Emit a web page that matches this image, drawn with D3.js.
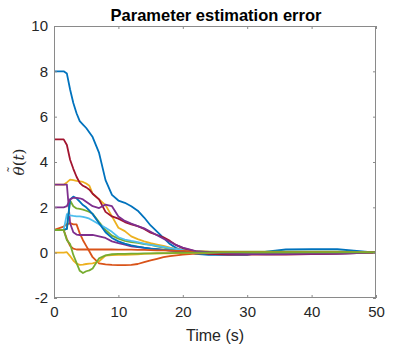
<!DOCTYPE html>
<html>
<head>
<meta charset="utf-8">
<script src="https://cdn.jsdelivr.net/npm/d3@7/dist/d3.min.js"></script>
<style>
  body { margin: 0; background: #fff; }
  svg { display: block; }
  .tick text { font-family: "Liberation Sans", Arial, sans-serif; fill: #262626; }
</style>
</head>
<body>
<script>
// sample times (s), shared by every series
var time = [0, 1.5, 2, 2.5, 3, 3.5, 4, 4.5, 5, 5.5, 6, 7, 8, 9, 10, 11, 12, 13, 14, 15,
  16, 17, 18, 19, 20, 22, 24, 27, 30, 33, 36, 40, 44, 47, 50];

// parameter errors
var blue1 = [8, 8, 7.9, 7.2, 6.6, 6.15, 5.8, 5.65, 5.5, 5.3, 5.1, 4.4, 3.2, 2.55, 2.3, 2.2, 2.05, 1.85, 1.55, 1.2,
  0.93, 0.65, 0.38, 0.2, 0.1, -0.05, -0.1, -0.1, -0.1, 0.05, 0.14, 0.15, 0.15, 0.08, 0];
var orange1 = [1, 1.15, 1.25, 1.3, 1.25, 1.25, 0.85, 0.55, 0.3, 0.05, -0.2, -0.47, -0.52, -0.54, -0.55, -0.55, -0.54, -0.5, -0.42, -0.34,
  -0.27, -0.2, -0.15, -0.12, -0.09, -0.04, -0.02, -0.02, -0.03, -0.03, -0.03, -0.03, -0.02, -0.01, 0];
var yellow1 = [3, 3, 3.1, 3.22, 3.2, 3.17, 3.15, 3.12, 3.05, 2.95, 2.6, 2.35, 2.1, 1.6, 1.1, 0.95, 0.72, 0.6, 0.5, 0.42,
  0.36, 0.3, 0.22, 0.16, 0.12, 0.07, 0.04, 0.03, 0.02, 0.02, 0.02, 0.02, 0.01, 0.01, 0];
var purple1 = [3, 3, 3, 1.3, 0.9, 0.8, 0.78, 0.78, 0.78, 0.78, 0.78, 0.72, 0.65, 0.5, 0.42, 0.35, 0.28, 0.25, 0.21, 0.18,
  0.15, 0.12, 0.09, 0.07, 0.05, 0, -0.03, -0.05, -0.06, -0.06, -0.06, -0.05, -0.04, -0.02, 0];
var green1 = [1, 1, 1.05, 2.3, 2.05, 1.95, 1.93, 1.9, 1.85, 1.8, 1.72, 1.35, 1.0, 0.75, 0.62, 0.52, 0.47, 0.43, 0.38, 0.34,
  0.28, 0.22, 0.17, 0.13, 0.1, 0.06, 0.04, 0.04, 0.04, 0.05, 0.05, 0.05, 0.04, 0.03, 0.02];
var lightBlue = [1, 1, 1.7, 1.65, 1.62, 1.6, 1.6, 1.58, 1.55, 1.5, 1.42, 1.25, 1.1, 0.92, 0.68, 0.58, 0.52, 0.47, 0.4, 0.34,
  0.3, 0.25, 0.2, 0.16, 0.12, 0.06, 0.02, -0.02, -0.05, -0.07, -0.06, -0.04, -0.03, -0.02, -0.01];
var red = [5, 5, 4.75, 4.1, 3.7, 3.35, 3.08, 2.95, 2.88, 2.78, 2.6, 2.35, 1.8, 1.6, 1.5, 1.35, 1.25, 1.17, 1.05, 0.88,
  0.78, 0.68, 0.52, 0.33, 0.2, 0.06, -0.05, -0.08, -0.08, -0.08, -0.08, -0.06, -0.04, -0.02, 0];
var blue2 = [1, 1, 1.05, 2.35, 2.47, 2.4, 2.25, 2.1, 2.0, 1.85, 1.7, 1.3, 0.9, 0.65, 0.5, 0.4, 0.32, 0.27, 0.22, 0.18,
  0.15, 0.12, 0.1, 0.08, 0.06, 0.02, 0, -0.02, -0.03, -0.03, -0.02, -0.02, -0.01, 0, 0];
var orange2 = [1, 1, 0.6, 0.3, 0.18, 0.14, 0.14, 0.14, 0.14, 0.14, 0.14, 0.14, 0.14, 0.14, 0.13, 0.13, 0.13, 0.12, 0.12, 0.11,
  0.1, 0.1, 0.09, 0.08, 0.08, 0.05, 0.03, 0.02, 0.02, 0.01, 0.01, 0.01, 0.01, 0, 0];
var yellow2 = [0, 0, 0.02, -0.15, -0.35, -0.48, -0.54, -0.53, -0.5, -0.48, -0.47, -0.38, -0.13, -0.11, -0.1, -0.1, -0.08, -0.07, -0.05, -0.04,
  -0.04, -0.03, -0.03, -0.02, -0.02, -0.01, -0.01, 0, 0, 0, 0, 0, 0, 0, 0];
var purple2 = [2, 2, 2.05, 2.35, 2.42, 2.42, 2.4, 2.35, 2.25, 2.15, 2.05, 1.97, 2.12, 2.05, 1.6, 1.4, 1.28, 1.17, 1.07, 0.92,
  0.77, 0.62, 0.48, 0.33, 0.22, 0.07, 0.02, -0.04, -0.06, -0.06, -0.06, -0.05, -0.04, -0.02, 0];
var green2 = [1, 1, 0.55, 0.38, -0.1, -0.45, -0.8, -0.9, -0.82, -0.78, -0.7, -0.25, -0.12, -0.07, -0.05, -0.05, -0.04, -0.04, -0.03, -0.03,
  -0.02, -0.02, -0.02, -0.01, -0.01, 0, 0, 0.01, 0.01, 0.01, 0.01, 0.01, 0.01, 0.01, 0.01];

var xTicks = [0, 10, 20, 30, 40, 50];
var yTicks = [-2, 0, 2, 4, 6, 8, 10];

// MATLAB default colour order, in plotting order
var series = [
  {v: blue1, c: "#0072BD"}, {v: orange1, c: "#D95319"}, {v: yellow1, c: "#EDB120"},
  {v: purple1, c: "#7E2F8E"}, {v: green1, c: "#77AC30"}, {v: lightBlue, c: "#4DBEEE"},
  {v: red, c: "#A2142F"}, {v: blue2, c: "#0072BD"}, {v: orange2, c: "#D95319"},
  {v: yellow2, c: "#EDB120"}, {v: purple2, c: "#7E2F8E"}, {v: green2, c: "#77AC30"}
];

var W = 415, H = 346;
var pL = 54, pR = 376, pT = 26, pB = 298;

var x = d3.scaleLinear().domain([0, 50]).range([pL, pR]);
var y = d3.scaleLinear().domain([-2, 10]).range([pB, pT]);

var svg = d3.select("body").append("svg")
  .attr("width", W)
  .attr("height", H);

svg.append("clipPath").attr("id", "plot")
  .append("rect")
  .attr("x", pL).attr("y", pT)
  .attr("width", pR - pL).attr("height", pB - pT);

// data lines
var line = d3.line()
  .x(function (d, i) { return x(time[i]); })
  .y(function (d) { return y(d); });

svg.append("g")
  .attr("clip-path", "url(#plot)")
  .selectAll("path")
  .data(series)
  .enter().append("path")
  .attr("d", function (d) { return line(d.v); })
  .attr("fill", "none")
  .attr("stroke", function (d) { return d.c; })
  .attr("stroke-width", 1.8)
  .attr("stroke-linejoin", "round");

// axes, ticks pointing inward like MATLAB
var axisColor = "#8a8a8a";
var plain = function (d) { return String(d); }; // hyphen minus, as MATLAB prints it

function styleAxis(g) {
  g.select(".domain").remove();
  g.selectAll(".tick line").attr("stroke", axisColor);
  g.selectAll(".tick text").style("font-size", "15px");
}

svg.append("g")
  .attr("transform", "translate(0," + pB + ")")
  .call(d3.axisBottom(x).tickValues(xTicks).tickSize(-3).tickPadding(8).tickFormat(plain))
  .call(styleAxis);

svg.append("g")
  .attr("transform", "translate(0," + pT + ")")
  .call(d3.axisTop(x).tickValues(xTicks).tickSize(-3).tickFormat(""))
  .call(styleAxis);

svg.append("g")
  .attr("transform", "translate(" + pL + ",0)")
  .call(d3.axisLeft(y).tickValues(yTicks).tickSize(-3).tickPadding(6).tickFormat(plain))
  .call(styleAxis);

svg.append("g")
  .attr("transform", "translate(" + pR + ",0)")
  .call(d3.axisRight(y).tickValues(yTicks).tickSize(-3).tickFormat(""))
  .call(styleAxis);

svg.append("rect")
  .attr("x", pL + 0.5).attr("y", pT + 0.5)
  .attr("width", pR - pL - 1).attr("height", pB - pT - 1)
  .attr("fill", "none")
  .attr("stroke", axisColor)
  .attr("stroke-width", 1);

// title and labels
svg.append("text")
  .attr("x", (pL + pR) / 2 + 1)
  .attr("y", 21)
  .attr("text-anchor", "middle")
  .style("font-family", "Liberation Sans, Arial, sans-serif")
  .style("font-weight", "bold")
  .style("font-size", "16.5px")
  .style("fill", "#000")
  .text("Parameter estimation error");

svg.append("text")
  .attr("x", (pL + pR) / 2)
  .attr("y", 341)
  .attr("text-anchor", "middle")
  .style("font-family", "Liberation Sans, Arial, sans-serif")
  .style("font-size", "16px")
  .style("fill", "#262626")
  .text("Time (s)");

// y label: theta with a tilde on top, then (t)
var labFont = "DejaVu Serif, Liberation Serif, serif";
var ylab = svg.append("text")
  .attr("transform", "translate(24,162) rotate(-90)")
  .attr("text-anchor", "middle")
  .style("font-family", labFont)
  .style("font-size", "15px")
  .style("fill", "#262626");
ylab.append("tspan").style("font-style", "italic").text("\u03B8");
ylab.append("tspan").text("(");
ylab.append("tspan").style("font-style", "italic").text("t");
ylab.append("tspan").text(")");

var labLen = ylab.node().getComputedTextLength();
var thetaLen = ylab.node().getSubStringLength(0, 1);
svg.append("text")
  .attr("transform", "translate(24,162) rotate(-90)")
  .attr("x", -labLen / 2 + thetaLen / 2 + 1.5)
  .attr("y", -7)
  .attr("text-anchor", "middle")
  .style("font-family", labFont)
  .style("font-size", "13px")
  .style("fill", "#262626")
  .text("\u02DC");
</script>
</body>
</html>
